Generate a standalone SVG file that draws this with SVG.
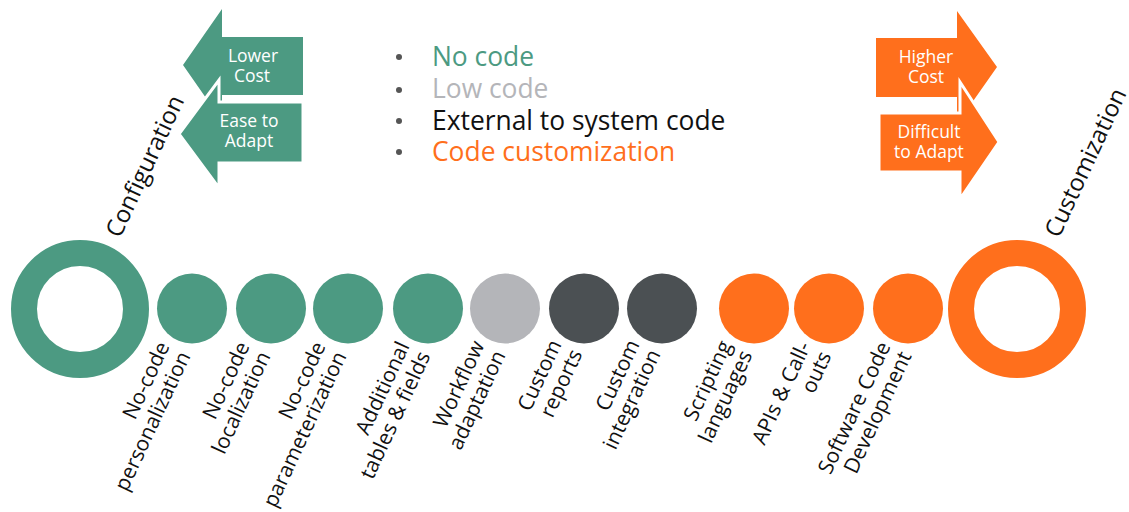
<svg xmlns="http://www.w3.org/2000/svg" width="1129" height="512" viewBox="0 0 1129 512">
<style>
.g{fill:#4C9A82}.o{fill:#FF6F1C}.lg{fill:#B4B5B9}.dk{fill:#4B5053}
.ring{fill:none;stroke-width:26}
.lbl{font-family:"Open Sans","Noto Sans",sans-serif;font-size:21px;fill:#111;text-anchor:end}
.big{font-family:"Open Sans","Noto Sans",sans-serif;font-size:24px;fill:#111}
.at{font-family:"Open Sans","Noto Sans",sans-serif;font-size:17.5px;fill:#fff;text-anchor:middle}
.leg{font-family:"Open Sans","Noto Sans",sans-serif;font-size:26.4px}
.bul{fill:#555}
</style>
<rect width="1129" height="512" fill="#fff"/>
<g id="arrows-left">
<polygon class="g" points="183,65 222,9 222,37 303,37 303,95 222,95 222,121"/>
<polygon class="g" points="179,134 219,80 219,102 303,102 303,163 219,163 219,188" stroke="#fff" stroke-width="3"/>
<text class="at" x="253" y="62">Lower</text>
<text class="at" x="252" y="82">Cost</text>
<text class="at" x="249" y="127">Ease to</text>
<text class="at" x="249" y="147">Adapt</text>
</g>
<g id="arrows-right">
<polygon class="o" points="876,38 957,38 957,11 997,67 957,124 957,97 876,97"/>
<polygon class="o" points="879,113 960,113 960,82 999,142 960,199 960,172 879,172" stroke="#fff" stroke-width="3"/>
<text class="at" x="926" y="63">Higher</text>
<text class="at" x="926" y="83">Cost</text>
<text class="at" x="929" y="138">Difficult</text>
<text class="at" x="929" y="158">to Adapt</text>
</g>
<g id="legend">
<circle class="bul" cx="399" cy="57" r="3"/>
<circle class="bul" cx="399" cy="90" r="3"/>
<circle class="bul" cx="399" cy="121" r="3"/>
<circle class="bul" cx="399" cy="152" r="3"/>
<text class="leg" x="432" y="66" fill="#4C9A82">No code</text>
<text class="leg" x="432" y="98" fill="#B4B5B9">Low code</text>
<text class="leg" x="432" y="130" fill="#111">External to system code</text>
<text class="leg" x="432" y="161" fill="#FF6F1C">Code customization</text>
</g>
<g id="configuration">
<circle class="ring" cx="80" cy="309" r="56" stroke="#4C9A82"/>
<text class="big" transform="translate(120,239) rotate(-65)">Configuration</text>
</g>
<g id="customization">
<circle class="ring" cx="1017" cy="309" r="56" stroke="#FF6F1C"/>
<text class="big" transform="translate(1059,239) rotate(-65)">Customization</text>
</g>
<g id="n1"><circle class="g" cx="192" cy="308.5" r="35"/><text class="lbl" transform="translate(170,346) rotate(-65)"><tspan x="0" y="0">No-code</tspan><tspan x="0" y="23">personalization</tspan></text></g>
<g id="n2"><circle class="g" cx="271" cy="308.5" r="35"/><text class="lbl" transform="translate(250,346) rotate(-65)"><tspan x="0" y="0">No-code</tspan><tspan x="0" y="23">localization</tspan></text></g>
<g id="n3"><circle class="g" cx="348" cy="308.5" r="35"/><text class="lbl" transform="translate(326,346) rotate(-65)"><tspan x="0" y="0">No-code</tspan><tspan x="0" y="23">parameterization</tspan></text></g>
<g id="n4"><circle class="g" cx="428" cy="308.5" r="35"/><text class="lbl" transform="translate(410,346) rotate(-65)"><tspan x="0" y="0">Additional</tspan><tspan x="0" y="23">tables &amp; fields</tspan></text></g>
<g id="n5"><circle class="lg" cx="505" cy="308.5" r="35"/><text class="lbl" transform="translate(485,345) rotate(-65)"><tspan x="0" y="0">Workflow</tspan><tspan x="0" y="23">adaptation</tspan></text></g>
<g id="n6"><circle class="dk" cx="584" cy="308.5" r="35"/><text class="lbl" transform="translate(562,344) rotate(-65)"><tspan x="0" y="0">Custom</tspan><tspan x="0" y="23">reports</tspan></text></g>
<g id="n7"><circle class="dk" cx="662" cy="308.5" r="35"/><text class="lbl" transform="translate(640,344) rotate(-65)"><tspan x="0" y="0">Custom</tspan><tspan x="0" y="23">integration</tspan></text></g>
<g id="n8"><circle class="o" cx="754" cy="308.5" r="35"/><text class="lbl" transform="translate(732,345) rotate(-65)"><tspan x="0" y="0">Scripting</tspan><tspan x="0" y="23">languages</tspan></text></g>
<g id="n9"><circle class="o" cx="829" cy="308.5" r="35"/><text class="lbl" transform="translate(811,346) rotate(-65)"><tspan x="0" y="0">APIs &amp; Call-</tspan><tspan x="0" y="23">outs</tspan></text></g>
<g id="n10"><circle class="o" cx="908" cy="308.5" r="35"/><text class="lbl" transform="translate(891,346) rotate(-65)"><tspan x="0" y="0">Software Code</tspan><tspan x="0" y="23">Development</tspan></text></g>
<g id="connectors"></g>
</svg>
